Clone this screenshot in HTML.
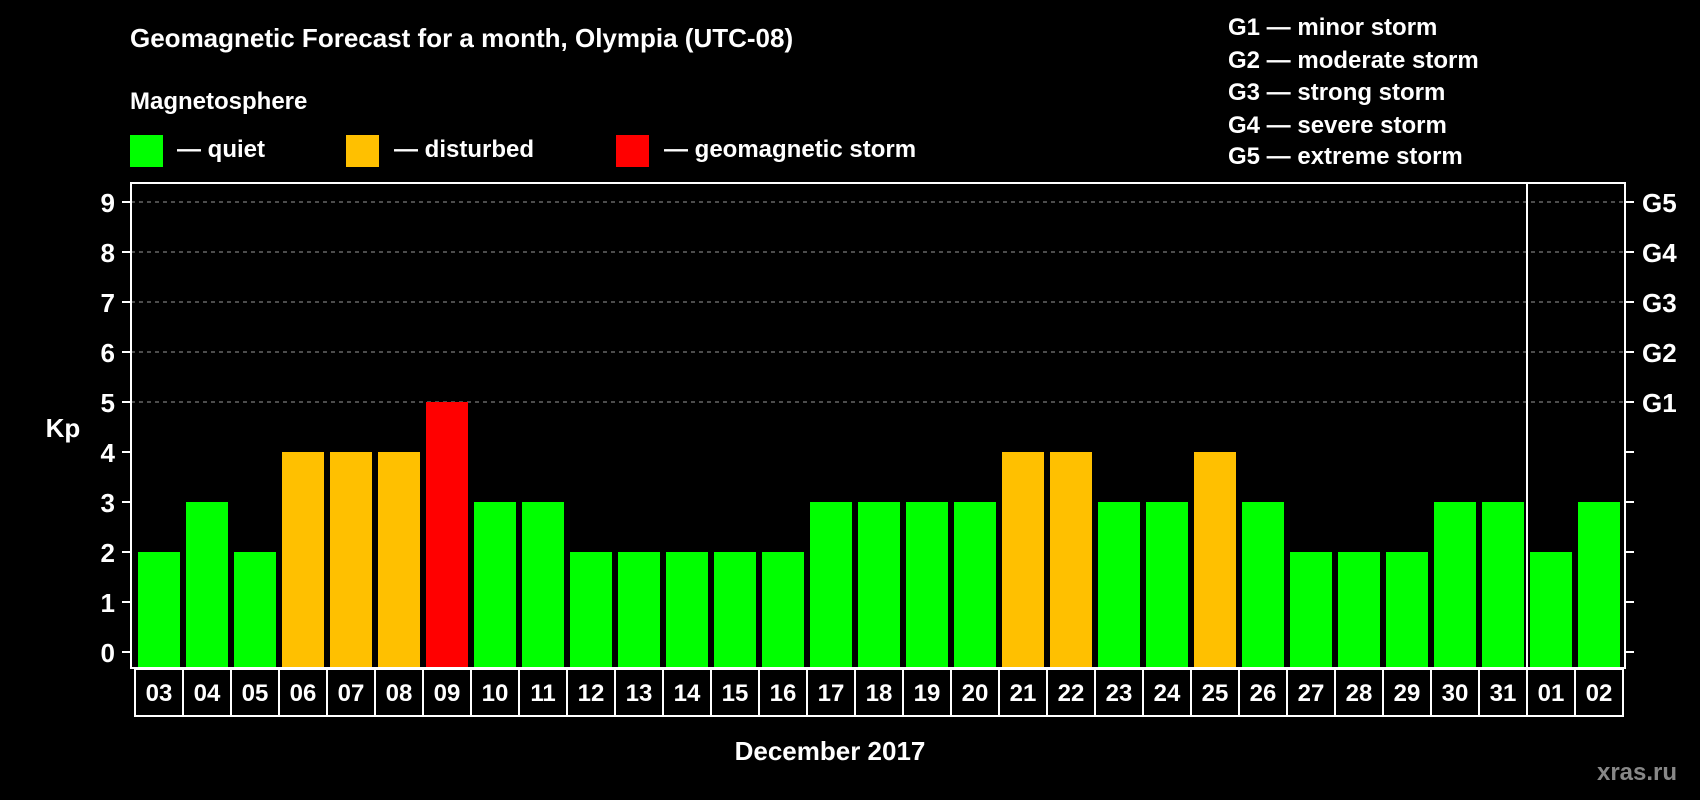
<!DOCTYPE html>
<html><head><meta charset="utf-8"><style>
body{margin:0;background:#000;}
svg{display:block;font-family:"Liberation Sans",Arial,sans-serif;font-weight:bold;}
</style></head><body>
<svg id="chart" width="1700" height="800" viewBox="0 0 1700 800" xmlns="http://www.w3.org/2000/svg">
<rect width="1700" height="800" fill="#000"/>
<text x="130" y="47" fill="#fff" font-size="26">Geomagnetic Forecast for a month, Olympia (UTC-08)</text>
<text x="130" y="109" fill="#fff" font-size="24">Magnetosphere</text>
<g><rect x="130" y="135" width="33" height="32" fill="#00ff00"/><text x="177" y="157" fill="#fff" font-size="24">— quiet</text></g>
<g><rect x="346" y="135" width="33" height="32" fill="#ffc000"/><text x="394" y="157" fill="#fff" font-size="24">— disturbed</text></g>
<g><rect x="616" y="135" width="33" height="32" fill="#ff0000"/><text x="664" y="157" fill="#fff" font-size="24">— geomagnetic storm</text></g>
<g fill="#fff" font-size="24">
<text x="1228" y="35">G1 — minor storm</text>
<text x="1228" y="68">G2 — moderate storm</text>
<text x="1228" y="100">G3 — strong storm</text>
<text x="1228" y="133">G4 — severe storm</text>
<text x="1228" y="164">G5 — extreme storm</text>
</g>
<g id="grid"></g>
<g id="bars"></g>
<rect x="131" y="183" width="1494" height="485" fill="none" stroke="#fff" stroke-width="2"/>
<line x1="1527" y1="183" x2="1527" y2="668" stroke="#fff" stroke-width="2"/>
<g id="axes"></g>
<text x="63" y="437" fill="#fff" font-size="26" text-anchor="middle">Kp</text>
<text x="830" y="760" fill="#fff" font-size="26" text-anchor="middle">December 2017</text>
<text x="1637" y="780" fill="#888" font-size="24" text-anchor="middle">xras.ru</text>
</svg>
<script>
const days = ["03","04","05","06","07","08","09","10","11","12","13","14","15","16","17","18","19","20","21","22","23","24","25","26","27","28","29","30","31","01","02"];
const kpValues = [2,3,2,4,4,4,5,3,3,2,2,2,2,2,3,3,3,3,4,4,3,3,4,3,2,2,2,3,3,2,3];
const yTicks = [0,1,2,3,4,5,6,7,8,9];
const gLabels = ["","","","","","G1","G2","G3","G4","G5"];
const NS="http://www.w3.org/2000/svg";
function y(v){return 652-v*50;}
function x(i){return 138+i*48;}
function mk(t,a,p){const e=document.createElementNS(NS,t);for(const k in a)e.setAttribute(k,a[k]);p.appendChild(e);return e;}
const grid=document.getElementById('grid'),bars=document.getElementById('bars'),axes=document.getElementById('axes');
yTicks.forEach((v,j)=>{
  if(v>=5){const g=mk('line',{x1:131,x2:1625,y1:y(v),y2:y(v),stroke:'#999','stroke-dasharray':'4,4','stroke-width':1},grid);
  
  }
  const t1=mk('line',{x1:122,x2:131,y1:y(v),y2:y(v),stroke:'#fff','stroke-width':2},axes);
  
  
  const t2=mk('line',{x1:1625,x2:1634,y1:y(v),y2:y(v),stroke:'#fff','stroke-width':2},axes);
  
  
  const l=mk('text',{x:115,y:y(v)+10,fill:'#fff','font-size':26,'text-anchor':'end'},axes);l.textContent=v;
  
  
  if(gLabels[j]){const g=mk('text',{x:1642,y:y(v)+10,fill:'#fff','font-size':26},axes);g.textContent=gLabels[j];
  
  }
});
kpValues.forEach((v,i)=>{
  const c=v>=5?'#ff0000':(v>=4?'#ffc000':'#00ff00');
  const r=mk('rect',{x:x(i),y:y(v),width:42,height:667-y(v),fill:c},bars);
  
  
  const b=mk('rect',{x:x(i)-3,y:669,width:48,height:47,fill:'none',stroke:'#fff','stroke-width':2},axes);
  
  
  const t=mk('text',{x:x(i)+21,y:701,fill:'#fff','font-size':24,'text-anchor':'middle'},axes);t.textContent=days[i];
  
  
});
</script>
</body></html>
